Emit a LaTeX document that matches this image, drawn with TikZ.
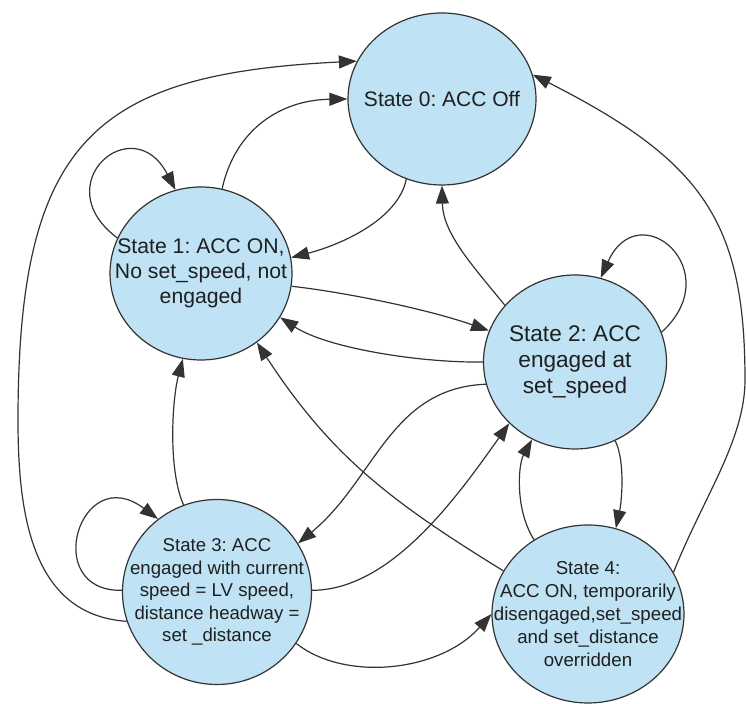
\documentclass[tikz,border=0pt]{standalone}
\usepackage{fontspec}
\setmainfont{Liberation Sans}
\usepackage{tikz}
\usetikzlibrary{arrows.meta, shapes.geometric}
\definecolor{accFill}{HTML}{BFE3F5}
\definecolor{accLine}{HTML}{333333}
\definecolor{accText}{HTML}{1F1F1F}
\frenchspacing

\begin{document}
\begin{tikzpicture}[
  x=0.5pt, y=-0.5pt,
  st/.style={ellipse, draw=accLine, line width=0.6pt, fill=accFill, inner sep=-20pt, align=center, text=accText},
  arr/.style={-{Triangle[length=9pt,width=6.5pt]}, line width=0.6pt, draw=accLine}
]
\useasboundingbox (0,0) rectangle (746,704);

\node[st, minimum width=94pt, minimum height=86pt, font=\fontsize{10.5}{12.5}\selectfont] (s0) at (442,99) {State 0: ACC Off};
\node[st, minimum width=91pt, minimum height=86.5pt, font=\fontsize{10.6}{12.5}\selectfont] (s1) at (201,273.5) {State 1: ACC ON,\\No set\_speed, not\\engaged};
\node[st, minimum width=91.5pt, minimum height=87pt, font=\fontsize{11.3}{13}\selectfont] (s2) at (575,362) {\raisebox{1.5pt}{\begin{tabular}{@{}c@{}}State 2: ACC\\engaged at\\set\_speed\end{tabular}}};
\node[st, minimum width=94.5pt, minimum height=92.5pt, font=\fontsize{9.3}{11.25}\selectfont] (s3) at (217,592) {State 3: ACC\\engaged with current\\speed = LV speed,\\distance headway =\\set \_distance};
\node[st, minimum width=96pt, minimum height=89pt, font=\fontsize{9.35}{11.4}\selectfont] (s4) at (588,614) {State 4:\\ACC ON, temporarily\\disengaged,set\_speed\\and set\_distance\\overridden};

% long outer arcs
\draw[arr] (s3.198) .. controls (30,615) and (18,510) .. (18,420) .. controls (18,140) and (95,74) .. (s0.156);
\draw[arr] (s4.26) .. controls (703,498) and (745,440) .. (745,380) .. controls (745,222) and (703,161) .. (s0.15);

% self loops
\draw[arr] (s1.157) .. controls (45,184) and (133,108) .. (s1.107);
\draw[arr] (s2.19) .. controls (729,271) and (639,193) .. (s2.73);
\draw[arr] (s3.179) .. controls (40,592) and (80,460) .. (s3.129);

% transitions
\draw[arr] (s1.76) .. controls (235,130) and (280,100) .. (s0.180);
\draw[arr] (s0.246) .. controls (398,220) and (340,245) .. (s1.10);
\draw[arr] (s1.352) .. controls (350,293) and (430,310) .. (s2.160);
\draw[arr] (s2.180) .. controls (420,363) and (327,348) .. (s1.331);
\draw[arr] (s2.141) .. controls (471,264) and (443,233) .. (s0.270);
\draw[arr] (s2.194) .. controls (390,388) and (375,480) .. (s3.31);
\draw[arr] (s3.1) .. controls (390,590) and (455,500) .. (s2.223);
\draw[arr] (s4.153) .. controls (390,501) and (331,456) .. (s1.309);
\draw[arr] (s3.111) .. controls (168,470) and (172,400) .. (s1.258);
\draw[arr] (s3.327) .. controls (345,682) and (440,672) .. (s4.180);
\draw[arr] (s2.297) .. controls (625,460) and (622,500) .. (s4.72);
\draw[arr] (s4.126) .. controls (515,510) and (518,465) .. (s2.241);
\end{tikzpicture}
\end{document}
